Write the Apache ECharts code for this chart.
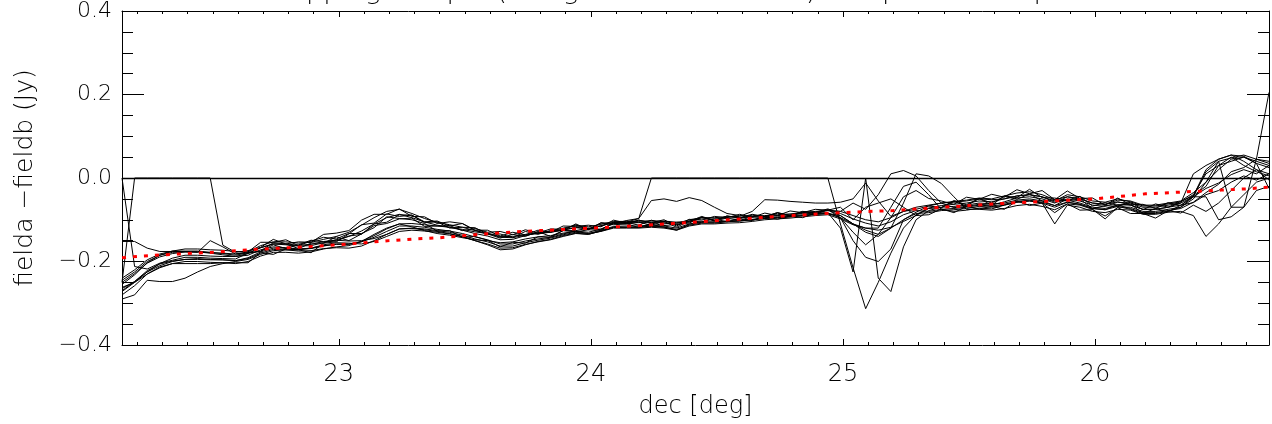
<!DOCTYPE html>
<html><head><meta charset="utf-8">
<script src="https://cdn.jsdelivr.net/npm/echarts@6/dist/echarts.min.js"></script>
<style>html,body{margin:0;padding:0;background:#fff}#c{width:1272px;height:424px}</style>
</head><body><div id="c"></div>
<script>
const titleText = 'Overlapping sample (using fielda and fieldb) dec profile comparison';
const xName = 'dec [deg]';
const yName = 'fielda \u2212fieldb (Jy)';
const xMajorTicks = [23, 24, 25, 26];
const xMinorTicks = [22.2,22.3,22.4,22.5,22.6,22.7,22.8,22.9,23.1,23.2,23.3,23.4,23.5,23.6,23.7,23.8,23.9,
  24.1,24.2,24.3,24.4,24.5,24.6,24.7,24.8,24.9,25.1,25.2,25.3,25.4,25.5,25.6,25.7,25.8,25.9,26.1,26.2,26.3,26.4,26.5,26.6];
const dec = [22.14,22.19,22.24,22.29,22.34,22.39,22.44,22.49,22.54,22.59,
22.64,22.69,22.74,22.79,22.84,22.89,22.94,22.99,23.04,23.09,
23.14,23.19,23.24,23.29,23.34,23.39,23.44,23.49,23.54,23.59,
23.64,23.69,23.74,23.79,23.84,23.89,23.94,23.99,24.04,24.09,
24.14,24.19,24.24,24.29,24.34,24.39,24.44,24.49,24.54,24.59,
24.64,24.69,24.74,24.79,24.84,24.89,24.94,24.99,25.04,25.09,
25.14,25.19,25.24,25.29,25.34,25.39,25.44,25.49,25.54,25.59,
25.64,25.69,25.74,25.79,25.84,25.89,25.94,25.99,26.04,26.09,
26.14,26.19,26.24,26.29,26.34,26.39,26.44,26.49,26.54,26.59,
26.64,26.69];
const s1 = [0,-0.212,-0.218,-0.204,-0.197,-0.190,-0.190,-0.192,-0.193,-0.194,
-0.180,-0.176,-0.160,-0.169,-0.160,-0.149,-0.153,-0.151,-0.139,-0.135,
-0.110,-0.106,-0.088,-0.089,-0.105,-0.103,-0.115,-0.109,-0.125,-0.135,
-0.134,-0.143,-0.128,-0.135,-0.126,-0.126,-0.110,-0.123,-0.108,-0.112,
-0.110,-0.106,-0.113,-0.104,-0.118,-0.103,-0.105,-0.098,-0.105,-0.097,
-0.102,-0.092,-0.099,-0.091,-0.095,-0.084,-0.084,-0.095,-0.110,-0.125,
-0.135,-0.120,-0.100,-0.082,-0.067,-0.071,-0.054,-0.064,-0.049,-0.065,
-0.043,-0.047,-0.027,-0.047,-0.048,-0.053,-0.044,-0.067,-0.059,-0.065,
-0.062,-0.085,-0.073,-0.081,-0.065,-0.059,-0.040,-0.030,-0.010,0.005,
-0.005,0.010];
const s2 = [-0.250,0,0,0,0,0,0,0,-0.161,-0.178,
-0.174,-0.166,-0.147,-0.158,-0.153,-0.154,-0.135,-0.132,-0.126,-0.101,
-0.087,-0.087,-0.074,-0.092,-0.093,-0.109,-0.105,-0.109,-0.125,-0.125,
-0.139,-0.130,-0.136,-0.125,-0.130,-0.115,-0.116,-0.113,-0.117,-0.101,
-0.108,-0.101,-0.108,-0.103,-0.106,-0.104,-0.092,-0.102,-0.091,-0.095,
-0.087,-0.092,-0.083,-0.090,-0.080,-0.082,-0.074,-0.085,-0.098,-0.108,
-0.115,-0.105,-0.088,-0.078,-0.080,-0.075,-0.073,-0.070,-0.065,-0.067,
-0.063,-0.056,-0.053,-0.058,-0.066,-0.050,-0.055,-0.065,-0.068,-0.058,
-0.060,-0.070,-0.070,-0.065,-0.060,-0.045,-0.025,-0.012,0.008,0.020,
0.010,0.030];
const s3 = [-0.152,-0.152,-0.168,-0.176,-0.176,-0.176,-0.178,-0.150,-0.165,-0.182,
-0.177,-0.162,-0.153,-0.153,-0.156,-0.154,-0.147,-0.140,-0.130,-0.113,
-0.095,-0.080,-0.075,-0.085,-0.097,-0.106,-0.112,-0.118,-0.126,-0.132,
-0.142,-0.143,-0.137,-0.133,-0.130,-0.124,-0.118,-0.121,-0.114,-0.106,
-0.106,-0.097,-0.054,-0.050,-0.056,-0.047,-0.054,-0.070,-0.085,-0.090,
-0.092,-0.090,-0.088,-0.086,-0.083,-0.080,-0.078,-0.080,-0.090,-0.100,
-0.105,-0.095,-0.080,-0.070,-0.065,-0.060,-0.058,-0.055,-0.050,-0.052,
-0.050,-0.043,-0.040,-0.045,-0.055,-0.040,-0.045,-0.055,-0.058,-0.050,
-0.057,-0.067,-0.067,-0.062,-0.057,-0.040,0.010,0.030,0.040,0.050,
0.035,0.025];
const s4 = [-0.265,-0.248,-0.225,-0.210,-0.200,-0.195,-0.193,-0.195,-0.196,-0.198,
-0.191,-0.177,-0.168,-0.168,-0.171,-0.169,-0.163,-0.158,-0.158,-0.153,
-0.142,-0.128,-0.115,-0.115,-0.118,-0.123,-0.127,-0.133,-0.141,-0.148,
-0.158,-0.158,-0.151,-0.146,-0.142,-0.134,-0.127,-0.130,-0.122,-0.110,
-0.102,-0.097,0,0,0,0,0,0,0,0,
0,0,0,0,0,0,0,-0.110,-0.215,-0.313,
-0.250,-0.180,-0.120,-0.088,-0.072,-0.066,-0.063,-0.060,-0.055,-0.057,
-0.050,-0.043,-0.040,-0.045,-0.058,-0.053,-0.060,-0.070,-0.073,-0.065,
-0.073,-0.083,-0.083,-0.078,-0.073,-0.058,-0.035,-0.015,0.015,0.025,
0.045,0.205];
const s5 = [-0.272,-0.250,-0.225,-0.205,-0.192,-0.185,-0.185,-0.187,-0.188,-0.188,
-0.181,-0.167,-0.158,-0.158,-0.161,-0.159,-0.152,-0.149,-0.151,-0.150,
-0.145,-0.135,-0.122,-0.120,-0.122,-0.126,-0.130,-0.137,-0.146,-0.153,
-0.163,-0.163,-0.155,-0.149,-0.144,-0.136,-0.130,-0.133,-0.125,-0.116,
-0.115,-0.115,-0.113,-0.115,-0.120,-0.110,-0.105,-0.105,-0.103,-0.102,
-0.099,-0.095,-0.093,-0.091,-0.088,-0.085,-0.083,-0.120,-0.225,0,
-0.240,-0.272,-0.165,-0.100,-0.078,-0.070,-0.068,-0.065,-0.060,-0.062,
-0.060,-0.053,-0.050,-0.055,-0.066,-0.058,-0.063,-0.073,-0.076,-0.068,
-0.075,-0.085,-0.085,-0.080,-0.070,-0.045,0.015,0.040,0.048,0.055,
0.045,0.035];
const s6 = [-0.290,-0.280,-0.245,-0.248,-0.248,-0.240,-0.225,-0.212,-0.205,-0.200,
-0.195,-0.183,-0.174,-0.172,-0.172,-0.168,-0.160,-0.155,-0.156,-0.158,
-0.152,-0.140,-0.128,-0.125,-0.127,-0.130,-0.134,-0.140,-0.150,-0.160,
-0.172,-0.170,-0.160,-0.152,-0.147,-0.138,-0.132,-0.135,-0.127,-0.118,
-0.118,-0.118,-0.115,-0.117,-0.125,-0.111,-0.106,-0.106,-0.104,-0.103,
-0.100,-0.097,-0.095,-0.093,-0.090,-0.087,-0.085,-0.095,-0.150,-0.190,
-0.200,-0.170,-0.100,-0.085,-0.083,-0.078,-0.076,-0.073,-0.068,-0.070,
-0.065,-0.058,-0.055,-0.060,-0.110,-0.065,-0.070,-0.080,-0.083,-0.075,
-0.077,-0.087,-0.087,-0.082,-0.080,-0.090,-0.140,-0.110,-0.070,-0.040,
-0.010,0.000];
const s7 = [-0.262,-0.250,-0.230,-0.215,-0.205,-0.205,-0.205,-0.205,-0.203,-0.203,
-0.203,-0.179,-0.183,-0.170,-0.172,-0.179,-0.156,-0.153,-0.134,-0.112,
-0.108,-0.086,-0.092,-0.089,-0.107,-0.105,-0.120,-0.118,-0.119,-0.134,
-0.144,-0.135,-0.140,-0.128,-0.140,-0.126,-0.126,-0.120,-0.123,-0.108,
-0.109,-0.119,-0.108,-0.114,-0.111,-0.108,-0.094,-0.103,-0.096,-0.102,
-0.092,-0.096,-0.084,-0.091,-0.083,-0.087,-0.076,-0.090,-0.110,-0.120,
-0.120,-0.070,-0.020,-0.010,-0.040,-0.075,-0.080,-0.077,-0.072,-0.074,
-0.065,-0.058,-0.055,-0.060,-0.070,-0.058,-0.063,-0.073,-0.076,-0.064,
-0.065,-0.075,-0.075,-0.070,-0.065,-0.045,-0.045,-0.100,-0.093,-0.070,
-0.030,-0.020];
const s8 = [-0.245,-0.225,-0.200,-0.185,-0.178,-0.177,-0.177,-0.179,-0.180,-0.182,
-0.179,-0.167,-0.158,-0.160,-0.163,-0.162,-0.155,-0.148,-0.140,-0.127,
-0.110,-0.095,-0.087,-0.095,-0.105,-0.113,-0.118,-0.125,-0.133,-0.139,
-0.148,-0.147,-0.138,-0.131,-0.127,-0.120,-0.114,-0.117,-0.111,-0.104,
-0.104,-0.104,-0.102,-0.104,-0.109,-0.100,-0.095,-0.095,-0.093,-0.092,
-0.080,-0.052,-0.053,-0.056,-0.058,-0.060,-0.060,-0.058,-0.050,-0.012,
-0.055,-0.092,-0.080,-0.075,-0.067,-0.060,-0.056,-0.053,-0.048,-0.050,
-0.043,-0.036,-0.033,-0.040,-0.052,-0.045,-0.050,-0.060,-0.063,-0.057,
-0.065,-0.075,-0.075,-0.070,-0.060,0.010,0.030,0.045,0.055,0.040,
0.020,-0.005];
const s9 = [-0.255,-0.232,-0.203,-0.185,-0.175,-0.170,-0.170,-0.172,-0.173,-0.176,
-0.177,-0.154,-0.154,-0.148,-0.162,-0.151,-0.142,-0.146,-0.133,-0.133,
-0.119,-0.093,-0.097,-0.100,-0.109,-0.127,-0.126,-0.142,-0.140,-0.149,
-0.165,-0.154,-0.156,-0.141,-0.142,-0.126,-0.129,-0.124,-0.125,-0.106,
-0.106,-0.113,-0.101,-0.110,-0.106,-0.106,-0.094,-0.102,-0.091,-0.096,
-0.089,-0.093,-0.083,-0.090,-0.080,-0.085,-0.076,-0.095,-0.130,-0.160,
-0.135,-0.095,-0.045,-0.030,-0.049,-0.055,-0.063,-0.046,-0.051,-0.039,
-0.046,-0.028,-0.038,-0.030,-0.052,-0.031,-0.049,-0.048,-0.065,-0.048,
-0.064,-0.063,-0.073,-0.059,-0.066,-0.042,-0.020,0.030,0.050,0.030,
0.015,0.005];
const s10 = [-0.250,-0.229,-0.204,-0.189,-0.181,-0.177,-0.177,-0.180,-0.184,-0.188,
-0.185,-0.172,-0.165,-0.167,-0.170,-0.168,-0.162,-0.159,-0.159,-0.152,
-0.138,-0.122,-0.110,-0.109,-0.112,-0.115,-0.118,-0.123,-0.129,-0.133,
-0.140,-0.140,-0.135,-0.132,-0.130,-0.125,-0.119,-0.122,-0.115,-0.107,
-0.107,-0.107,-0.105,-0.107,-0.112,-0.103,-0.098,-0.098,-0.096,-0.095,
-0.094,-0.092,-0.090,-0.088,-0.085,-0.082,-0.078,-0.080,-0.060,-0.075,
-0.040,0.010,0.018,0.005,-0.030,-0.060,-0.071,-0.068,-0.063,-0.065,
-0.057,-0.048,-0.045,-0.050,-0.060,-0.045,-0.050,-0.060,-0.063,-0.053,
-0.055,-0.065,-0.065,-0.060,-0.055,-0.035,-0.010,0.020,0.045,0.050,
0.040,0.030];
const s11 = [-0.270,-0.248,-0.222,-0.206,-0.199,-0.195,-0.195,-0.196,-0.196,-0.198,
-0.193,-0.180,-0.171,-0.172,-0.175,-0.174,-0.169,-0.167,-0.168,-0.163,
-0.150,-0.135,-0.122,-0.121,-0.124,-0.128,-0.133,-0.141,-0.150,-0.158,
-0.168,-0.167,-0.159,-0.153,-0.148,-0.140,-0.133,-0.135,-0.127,-0.118,
-0.118,-0.118,-0.116,-0.118,-0.123,-0.113,-0.108,-0.108,-0.105,-0.103,
-0.100,-0.097,-0.095,-0.093,-0.090,-0.087,-0.085,-0.090,-0.110,-0.130,
-0.140,-0.120,-0.060,0.010,0.005,-0.013,-0.045,-0.075,-0.075,-0.077,
-0.073,-0.066,-0.063,-0.068,-0.076,-0.062,-0.065,-0.075,-0.098,-0.070,
-0.070,-0.080,-0.080,-0.075,-0.070,-0.050,-0.010,0.040,-0.070,-0.070,
0.045,0.040];
const s12 = [-0.240,-0.220,-0.196,-0.182,-0.175,-0.175,-0.175,-0.178,-0.181,-0.185,
-0.179,-0.175,-0.155,-0.158,-0.169,-0.156,-0.156,-0.141,-0.150,-0.134,
-0.114,-0.109,-0.098,-0.096,-0.116,-0.115,-0.114,-0.126,-0.121,-0.130,
-0.128,-0.136,-0.124,-0.132,-0.122,-0.123,-0.112,-0.124,-0.107,-0.109,
-0.110,-0.101,-0.107,-0.100,-0.115,-0.099,-0.101,-0.092,-0.095,-0.087,
-0.094,-0.084,-0.090,-0.079,-0.083,-0.075,-0.077,-0.070,-0.100,-0.070,
-0.060,-0.050,-0.070,-0.090,-0.073,-0.071,-0.056,-0.067,-0.049,-0.060,
-0.044,-0.051,-0.038,-0.055,-0.052,-0.055,-0.050,-0.074,-0.066,-0.068,
-0.058,-0.076,-0.062,-0.070,-0.056,-0.043,0.020,0.045,0.055,0.052,
0.035,-0.025];
const s13 = [-0.280,-0.258,-0.230,-0.213,-0.205,-0.200,-0.200,-0.202,-0.203,-0.205,
-0.200,-0.187,-0.178,-0.178,-0.180,-0.177,-0.170,-0.165,-0.162,-0.152,
-0.135,-0.120,-0.110,-0.117,-0.126,-0.133,-0.137,-0.143,-0.148,-0.150,
-0.155,-0.153,-0.146,-0.141,-0.138,-0.132,-0.128,-0.133,-0.128,-0.120,
-0.120,-0.120,-0.118,-0.120,-0.125,-0.115,-0.110,-0.110,-0.108,-0.107,
-0.104,-0.100,-0.098,-0.096,-0.093,-0.090,-0.088,-0.098,-0.112,-0.120,
-0.125,-0.118,-0.104,-0.090,-0.088,-0.074,-0.083,-0.068,-0.074,-0.068,
-0.075,-0.055,-0.066,-0.060,-0.083,-0.062,-0.077,-0.076,-0.091,-0.071,
-0.085,-0.085,-0.096,-0.078,-0.084,-0.065,-0.080,-0.060,-0.030,0.000,
0.020,0.010];
const blackSeries = [s1,s2,s3,s4,s5,s6,s7,s8,s9,s10,s11,s12,s13];
const redDec = [22.14,22.2,22.3,22.4,22.5,22.6,22.7,22.8,22.9,23.0,23.1,23.2,23.3,23.4,23.5,23.6,23.7,23.8,23.9,
24.0,24.1,24.2,24.3,24.4,24.5,24.6,24.7,24.8,24.9,25.0,25.1,25.2,25.3,25.4,25.5,25.6,25.7,25.8,25.9,
26.0,26.1,26.2,26.3,26.4,26.5,26.6,26.69];
const redFit = [-0.191,-0.188,-0.184,-0.181,-0.178,-0.174,-0.170,-0.167,-0.164,-0.160,-0.155,-0.150,-0.146,-0.143,-0.138,-0.133,-0.129,-0.126,-0.123,
-0.120,-0.117,-0.114,-0.110,-0.106,-0.102,-0.098,-0.094,-0.090,-0.086,-0.083,-0.080,-0.078,-0.074,-0.070,-0.066,-0.062,-0.059,-0.056,-0.053,
-0.050,-0.044,-0.038,-0.035,-0.032,-0.029,-0.026,-0.022];

const FONT = 'DejaVu Sans';
const FW = 200;
const TXT = '#000';
const chart = echarts.init(document.getElementById('c'), null, {renderer: 'canvas'});
const xBase = {type: 'value', min: 22.14, max: 26.69, gridIndex: 0, scale: true,
  splitLine: {show: false}, axisPointer: {show: false}};
function mkX(pos, ticks, len, showLine, showLabel) {
  return Object.assign({}, xBase, {
    position: pos,
    axisLine: {show: showLine, onZero: false, lineStyle: {color: '#000', width: 1}},
    axisTick: {show: true, inside: true, length: len, customValues: ticks, lineStyle: {color: '#000', width: 1}},
    axisLabel: {show: showLabel, customValues: ticks, margin: 18, color: TXT, fontFamily: FONT, fontWeight: FW, fontSize: 24,
      formatter: v => String(Math.round(v))},
    name: showLabel ? xName : '', nameLocation: 'middle', nameGap: 50,
    nameTextStyle: {color: TXT, fontFamily: FONT, fontWeight: FW, fontSize: 24}
  });
}
function mkY(pos, showLabel) {
  return {type: 'value', min: -0.4, max: 0.4, interval: 0.2, position: pos,
    splitLine: {show: false},
    axisLine: {show: true, onZero: false, lineStyle: {color: '#000', width: 1}},
    axisTick: {show: true, inside: true, length: 22, lineStyle: {color: '#000', width: 1}},
    minorTick: {show: true, splitNumber: 4, length: 11, lineStyle: {color: '#000', width: 1}},
    axisLabel: {show: showLabel, margin: 10, color: TXT, fontFamily: FONT, fontWeight: FW, fontSize: 22,
      formatter: v => (v < -1e-9 ? '\u2212' : '') + Math.abs(v).toFixed(1)},
    name: showLabel ? yName : '', nameLocation: 'middle', nameGap: 84, nameRotate: 90,
    nameTextStyle: {color: TXT, fontFamily: FONT, fontWeight: FW, fontSize: 25}
  };
}
const series = blackSeries.map((s, j) => ({
  type: 'line', xAxisIndex: 0, yAxisIndex: 0, symbol: 'none', showSymbol: false, clip: true,
  data: dec.map((d, i) => [d, s[i]]),
  lineStyle: {color: '#000', width: 1}, z: 2, silent: true
}));
series[0].markLine = {silent: true, symbol: 'none', label: {show: false}, animation: false,
  lineStyle: {color: '#000', width: 1.3, type: 'solid'}, data: [{yAxis: 0}]};
series.push({type: 'line', xAxisIndex: 0, yAxisIndex: 0, symbol: 'none', showSymbol: false, clip: true,
  data: redDec.map((d, i) => [d, redFit[i]]),
  lineStyle: {color: '#ff0000', width: 3, type: [4, 7], cap: 'butt'}, z: 5, silent: true});

chart.setOption({
  animation: false,
  backgroundColor: '#fff',
  title: {text: titleText, left: 212, top: -27,
    textStyle: {color: TXT, fontFamily: FONT, fontWeight: FW, fontSize: 27}},
  grid: {left: 122, right: 3, top: 11, bottom: 78, containLabel: false},
  xAxis: [mkX('bottom', xMajorTicks, 6, true, true), mkX('bottom', xMinorTicks, 3, false, false),
          mkX('top', xMajorTicks, 6, true, false), mkX('top', xMinorTicks, 3, false, false)],
  yAxis: [mkY('left', true), mkY('right', false)],
  series: series
});
</script></body></html>
